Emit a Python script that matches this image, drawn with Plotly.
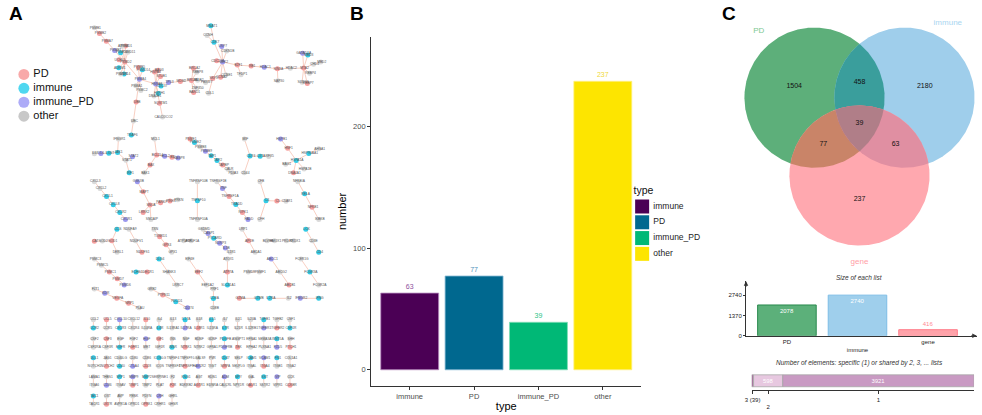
import numpy as np
import plotly.graph_objects as go

W, H = 982, 415

# ---------------- panel A: gene network (edges "A-B") ----------------
TOP_LEFT = """BRCA1-BARD1 BRCA1-ZNF350 BRCA1-BRCA2 BRCA1-RBBP8 BRCA1-PALB2 BRCA1-MDM2
MDM2-TP53 TP53-HSPA8 HSPA8-HSPA4 HSPA8-STUB1 HSPA8-BAG3 HSPA8-DNAJB1 HSPA8-HSPH1
HSPA8-CDC37 HSPA8-PSMA4 HSPA8-SQSTM1 PSMA4-PSMD2 PSMA4-PSMB5 PSMA4-PSMC2 PSMA4-PSMA1
PSMA4-UBB PSMA4-PSMD14 PSMD2-PSMC4 PSMD2-PSMD1 PSMD2-PSMD4 PSMD2-UCHL5 PSMD2-ADRM1
PSMD2-PSMD11 PSMD2-ATXN3 PSMD2-PSMB7 PSMD2-USP14 PSMB7-PSMA7 PSMA7-PSMB2 PSMB2-PSMB1
UBB-UBC UBC-TRAF6 SQSTM1-CALCOCO2"""

TOP_RIGHT = """CDK2-CCNA2 CDK2-CCNE1 CDK2-CDKN1B CDK2-CDC25A CDK2-USP7 CDK2-SKP2 SKP2-CUL1
SKP2-FBXW7 CDK2-CDK7 CDK7-CCNH CDK7-MNAT1 CDK2-E2F1 E2F1-RB1 E2F1-TFDP1 RB1-HDAC1
HDAC1-SIN3A SIN3A-SAP30 SIN3A-HDAC2 HDAC2-MTA2 MTA2-CHD4 MTA2-GATAD2A MTA2-MBD3
MTA2-RBBP4 MTA2-RBBP7 MTA2-SUDS3 CHD4-MBD2"""

ROW1 = [
    "IRF1-STAT1 STAT1-JAK1 STAT1-STAT2 JAK1-IL6ST JAK1-IFNGR1 IL6ST-IL6 IL6-IL6R",
    "BCL2L1-BAX BAX-BAK1 BCL2L1-BCL2 BCL2-BID BID-CASP8 BCL2L1-MCL1",
    "PSME1-PSME2 PSME2-PSMB8 PSMB8-PSMB9 PSMB9-TAP1 TAP1-TAP2 TAP2-TAPBP TAPBP-CALR CALR-PDIA3",
    "CD74-CIITA CD74-MIF CD74-CD44 CIITA-RFX5",
    "DNAJA1-HSPA1A HSPA1A-HSPA1B HSPA1A-BAG1 HSPA1A-HSF1 HSF1-HSPB1 HSPA1A-HSP90AA1 HSP90AA1-AHSA1",
]
ROW2 = [
    "CXCL8-CXCR2 CXCR2-CXCR1 CXCL8-CXCL1 CXCL1-CXCL2 CXCL2-CXCL3",
    "SNCA-SNCAIP SNCA-PARK7 SNCA-LRRK2 PARK7-PINK1 PINK1-PRKN SNCA-MAPT MAPT-GSK3B",
    "TNFSF10-TNFRSF10A TNFSF10-TNFRSF10B",
    "TNFRSF1A-TRADD TNFRSF1A-TNF TNF-TNFRSF1B TRADD-RIPK1 RIPK1-FADD",
    "C3-C5 C3-CFB C3-CFH C5-C5AR1",
    "IKBKB-NFKB1 NFKB1-RELA RELA-NFKBIA",
]
ROW3 = [
    "SOD1-SOD2 SOD1-CCS SOD2-CAT SOD1-DERL1",
    "NDUFS1-NDUFV1 NDUFV1-NDUFA9",
    "GPX1-GPX4 GPX4-TXNRD1 TXNRD1-TXN",
    "ATP5F1A-ATP5F1B",
    "IL1B-IL1R1 IL1B-NLRP3 NLRP3-PYCARD PYCARD-CASP1 CASP1-GSDMD",
    "ABCA1-APOE APOE-LRP1",
    "HMOX1-BLVRB",
    "PRDX1-PRDX2",
    "CD4-CD3E CD3E-LCK",
]
ROW4 = [
    "PSMC1-PSMC5 PSMC5-PSMC3 PSMC1-PSMD7 PSMD7-PSMD6",
    "DECR1-ECHS1",
    "LRRC7-SHANK3 SHANK3-DLG4",
    "EEF1A2-EEF2 EEF2-EIF4E",
    "ATP7A-SLC31A1 ATP7A-ATOX1",
    "PSMF1-PSMD9",
    "ABCB1-ABCG2 ABCG2-ABCC1",
    "FCGR2A-FCGR3A FCGR3A-FCER1G",
]
ROW5 = [
    "VEGFA-KDR KDR-FLT1 VEGFA-NRP1 NRP1-PLAU",
    "CD274-PDCD1 PDCD1-PTPN11 PTPN11-GRB2",
    "CD8A-CD8B CD8A-PRF1",
    "GZMB-GZMA",
    "IL2-IL2RA",
    "IFNG-IFNGR2",
]

GRID_PAIRS = """CCL2-CCR2 CCL5-CCR5 CXCL10-CXCR3 CXCL12-CXCR4 IL10-IL10RA IL4-IL4R IL13-IL13RA1 IL17A-IL17RA
IL18-IL18R1 IL15-IL15RA IL7-IL7R IL21-IL21R IL23A-IL12RB1 TGFB1-TGFBR1 TGFB2-TGFBR2 CSF1-CSF1R
CSF2-CSF2RA CSF3-CSF3R EGF-EGFR FGF2-FGFR1 HGF-MET IGF1-IGF1R INS-INSR NGF-NTRK1
BDNF-NTRK2 GDNF-GFRA1 PDGFB-PDGFRB ANGPT1-TEK EFNA1-EPHA2 SEMA3A-PLXNA1 WNT5A-FZD5 SHH-PTCH1
DLL1-NOTCH1 JAG1-NOTCH2 CD40LG-CD40 CD80-CTLA4 CD86-CD28 ICOSLG-ICOS TNFSF4-TNFRSF4 TNFSF9-TNFRSF9
LGALS9-HAVCR2 PVR-TIGIT CD47-SIRPA SELP-SELPLG ICAM1-ITGAL VCAM1-ITGA4 FN1-ITGB1 COL1A1-ITGA2
LAMA1-ITGA6 THBS1-CD36 SPP1-ITGAV MMP9-TIMP1 MMP2-TIMP2 SERPINE1-PLAT F2-F2R KNG1-BDKRB2
AGT-AGTR1 EDN1-EDNRA ADM-CALCRL NPY-NPY1R GAL-GALR1 SST-SSTR2 VIP-VIPR1 CCK-CCKBR
TAC1-TACR1 OXT-OXTR AVP-AVPR1A PENK-OPRD1 PDYN-OPRK1 CRH-CRHR1 GHRL-GHSR"""

PD_GENES = """BRCA1 BARD1 BRCA2 MDM2 HSPA4 STUB1 BAG3 PSMD2 PSMB5 PSMD1 UCHL5 PSMA7 PSMB2 UBB SQSTM1
CCNA2 CDC25A SKP2 E2F1 RB1 SIN3A MTA2 RBBP7 BCL2L1 BAX BID PSME1 TAPBP DNAJA1 HSF1
SNCA PARK7 LRRK2 PINK1 MAPT TNFRSF1A RIPK1 C5 NFKB1 SOD1 CAT NDUFS1 GPX4 TXNRD1 APOE
PSMC1 PSMD7 DECR1 EEF2 ATP7A ABCB1 VEGFA NRP1 PTPN11 GZMA CCL5 IL10 IL18R1 TGFBR2 CSF3
FGFR1 IGF1 NTRK1 TEK PTCH1 NOTCH2 CD28 TNFRSF9 SIRPA ITGA4 TIMP1 F2R AGTR1 GALR1 CCKBR OXTR OPRK1"""

IMMUNE_GENES = """PSMD14 PSMC4 ADRM1 HSPH1 CDC37 TRAF6 USP14 CDK7 MNAT1 MBD3 IRF1 JAK1 IL6ST CD74
CIITA PSME2 TAP1 TAP2 HSPA1A HSP90AA1 CXCL8 CXCR2 CXCL1 TNFSF10 TRADD C3 RELA CCS PYCARD
CD4 LCK ECHS1 DLG4 SLC31A1 FCGR3A PDCD1 CD8A GZMB IL2RA IFNG CCR2 CXCR3 IL4R IL17A IL15
IL7R TGFB1 CSF1R EGFR INSR PDGFB WNT5A DLL1 CD40 ICOSLG CD47 ICAM1 FN1 SPP1 MMP2 KNG1 NPY SST TAC1"""

IMMUNE_PD_GENES = """HSPA8 TP53 PSMA4 PSMB7 CDK2 USP7 HDAC1 GATAD2A STAT2 IL6 BCL2 CASP8 PSMB9 HSPB1
CXCR1 GSK3B TNF FADD IL1B NLRP3 CASP1 PSMD6 ABCC1 KDR CD274 IFNGR2 CXCL10 IL17RA TGFBR1
HGF PDGFRB FZD5 CTLA4 HAVCR2 VCAM1 CD36 MMP9 ADM VIP CRH"""

NODE_TYPES = ["PD", "immune", "immune_PD", "other"]
NODE_COLORS = ["#F6A0A0", "#33CBE6", "#9B98EE", "#DADADA"]
LEGEND_COLORS = ["#F8A9A9", "#4FD7F0", "#ADABF7", "#C8C8C8"]

# ---------------- panel B: node counts by type ----------------
B_TYPES = ["immune", "PD", "immune_PD", "other"]
B_COUNTS = [63, 77, 39, 237]
B_COLORS = ["#4B0055", "#00688F", "#00B876", "#FDE500"]
B_EDGE = ["#B98DC0", "#7FB6D2", "#7FDDB8", "#FFF080"]
B_TEXT = ["#8E4F9E", "#4F93BA", "#2BC488", "#F0D83A"]

# ---------------- panel C: Venn of PD / immune / gene ----------------
SETS = ["PD", "immune", "gene"]
REGION_KEYS = ["100", "010", "001", "110", "101", "011", "111"]
REGION_COUNTS = [1504, 2180, 237, 458, 77, 63, 39]
REGION_COLORS = ["#5DAF7A", "#9FCEEB", "#FFA8AF", "#3A9E9C", "#C98468", "#E08FA2", "#B07E88"]
SET_TEXT = ["#7CC891", "#A9D5F0", "#FF9EA6"]
SIZE_FILL = ["#5CB07A", "#9FCFEC", "#FFA3AA"]
SIZE_LINE = ["#2A8A4E", "#7DBDE6", "#FF7E8A"]
SHARE_FILL = ["#A8709F", "#E7C8E0", "#C99AC3"]


def edges_of(s):
    return [tuple(p.split("-")) for p in s.split()]


def spring(edges, iters=400):
    nodes = []
    for a, b in edges:
        for v in (a, b):
            if v not in nodes:
                nodes.append(v)
    n = len(nodes)
    idx = {v: i for i, v in enumerate(nodes)}
    E = np.array([[idx[a], idx[b]] for a, b in edges])
    if n >= 4:
        A = np.zeros((n, n))
        A[E[:, 0], E[:, 1]] = 1
        A[E[:, 1], E[:, 0]] = 1
        L = np.diag(A.sum(1)) - A
        vals, vecs = np.linalg.eigh(L)
        pos = vecs[:, 1:3].copy()
        pos = pos / (np.abs(pos).max() + 1e-9) * 0.5
        pos[:, 1] += 0.01 * np.cos(np.arange(n))
    else:
        ang = np.linspace(0, 2 * np.pi, n, endpoint=False)
        pos = np.c_[np.cos(ang), np.sin(ang)] * 0.5
    k = 1.0 / np.sqrt(n)
    t = 0.1
    for _ in range(iters):
        d = pos[:, None, :] - pos[None, :, :]
        dist2 = (d ** 2).sum(-1) + 1e-9
        disp = (d * (k * k / dist2)[:, :, None]).sum(1)
        dd = pos[E[:, 0]] - pos[E[:, 1]]
        ln = np.sqrt((dd ** 2).sum(-1))
        f = dd * (ln / k)[:, None]
        np.add.at(disp, E[:, 0], -f)
        np.add.at(disp, E[:, 1], f)
        m = np.sqrt((disp ** 2).sum(-1)) + 1e-9
        pos += disp / m[:, None] * np.minimum(m, t)[:, None]
        t = max(t * 0.985, 0.003)
    return nodes, pos


pos = {}
all_edges = []


def place(edges, x0, y0, w, h, pad=4):
    nodes, p = spring(edges)
    mn, span = p.min(0), np.ptp(p, 0)
    ok = span > 1e-6
    u = np.where(ok, (p - mn) / np.where(ok, span, 1), 0.5)
    for v, (a, b) in zip(nodes, u):
        pos[v] = (x0 + pad + a * (w - 2 * pad), y0 + pad + b * (h - 2 * pad))
    all_edges.extend(edges)


place(edges_of(TOP_LEFT), 84, 24, 112, 116)
place(edges_of(TOP_RIGHT), 196, 22, 124, 76)

for comps, y0, y1 in [(ROW1, 136, 178), (ROW2, 179, 225), (ROW3, 227, 258), (ROW4, 257, 291), (ROW5, 287, 314)]:
    sizes = [len(set(sum(edges_of(c), ()))) ** 0.75 for c in comps]
    avail = 234 - 4 * (len(comps) - 1)
    x = 84
    for c, s in zip(comps, sizes):
        w = avail * s / sum(sizes)
        place(edges_of(c), x, y0, w, y1 - y0)
        x += w + 4

for i, (a, b) in enumerate(edges_of(GRID_PAIRS)):
    col, row = i % 16, i // 16
    gx = 87 + col * 13.2
    gy = 322 + row * 19.2
    pos[a] = (gx, gy)
    pos[b] = (gx, gy + 8.5)
    all_edges.append((a, b))

ntype = {v: "other" for v in pos}
for name, genes in [("PD", PD_GENES), ("immune", IMMUNE_GENES), ("immune_PD", IMMUNE_PD_GENES)]:
    for g in genes.split():
        if g in ntype:
            ntype[g] = name

font = "Liberation Sans, Arial, sans-serif"
fig = go.Figure()

# x/y is a pixel canvas over the whole figure (network + hand-made legends)
ex, ey = [], []
for a, b in all_edges:
    ex += [pos[a][0], pos[b][0], None]
    ey += [pos[a][1], pos[b][1], None]
fig.add_trace(go.Scatter(x=ex, y=ey, mode="lines", line=dict(color="#F4AE98", width=0.6),
                         hoverinfo="skip", xaxis="x", yaxis="y"))

for t, c in zip(NODE_TYPES, NODE_COLORS):
    vs = [v for v in pos if ntype[v] == t]
    fig.add_trace(go.Scatter(x=[pos[v][0] for v in vs], y=[pos[v][1] for v in vs], mode="markers",
                             marker=dict(size=5, color=c, line=dict(width=0)),
                             text=vs, xaxis="x", yaxis="y"))

vs = list(pos)
fig.add_trace(go.Scatter(x=[pos[v][0] + 1 for v in vs], y=[pos[v][1] for v in vs], mode="text", text=vs,
                         textposition="middle center", textfont=dict(size=3.3, color="#555555"),
                         hoverinfo="skip", xaxis="x", yaxis="y"))

# legend of panel A
fig.add_trace(go.Scatter(x=[17] * 4, y=[75 + 14 * i for i in range(4)], mode="markers",
                         marker=dict(size=11, color=LEGEND_COLORS, line=dict(width=0)),
                         hoverinfo="skip", xaxis="x", yaxis="y"))
fig.add_trace(go.Scatter(x=[26.5] * 4, y=[75 + 14 * i for i in range(4)], mode="text",
                         text=NODE_TYPES, textposition="middle right",
                         textfont=dict(size=11, color="#111111", family=font),
                         hoverinfo="skip", xaxis="x", yaxis="y"))

# legend of panel B
key_y = [208 + 15.9 * i for i in range(4)]
fig.add_trace(go.Scatter(x=[639.7] * 4, y=key_y, mode="markers",
                         marker=dict(size=14, symbol="square", color=B_COLORS, line=dict(width=0)),
                         hoverinfo="skip", xaxis="x", yaxis="y"))
fig.add_trace(go.Scatter(x=[651] * 4, y=key_y, mode="text", text=B_TYPES, textposition="middle right",
                         textfont=dict(size=8.5, color="#222222", family=font),
                         hoverinfo="skip", xaxis="x", yaxis="y"))
fig.add_trace(go.Scatter(x=[631], y=[193], mode="text", text=["type"], textposition="middle right",
                         textfont=dict(size=10.5, color="#111111", family=font),
                         hoverinfo="skip", xaxis="x", yaxis="y"))

# ---------------- panel B ----------------
for t, n, c, e, tc in zip(B_TYPES, B_COUNTS, B_COLORS, B_EDGE, B_TEXT):
    fig.add_trace(go.Bar(x=[t], y=[n], name=t, width=0.9, marker=dict(color=c, line=dict(color=e, width=0.8)),
                         text=[n], textposition="outside", textfont=dict(size=7, color=tc),
                         cliponaxis=False, xaxis="x2", yaxis="y2"))

# ---------------- panel C: Venn ----------------
R = 1.35
ANG = np.deg2rad([150, 30, 270])
centers = np.c_[np.cos(ANG), np.sin(ANG)]
th = np.linspace(0, 2 * np.pi, 721)


def region_poly(members):
    pts = []
    for i in members:
        bnd = centers[i] + R * np.c_[np.cos(th), np.sin(th)]
        ok = np.ones(len(bnd), bool)
        for j in members:
            if j != i:
                ok &= ((bnd - centers[j]) ** 2).sum(1) <= R * R + 1e-9
        pts.append(bnd[ok])
    P = np.vstack(pts)
    m = P.mean(0)
    return P[np.argsort(np.arctan2(P[:, 1] - m[1], P[:, 0] - m[0]))]


g = np.linspace(-3, 3, 601)
GX, GY = np.meshgrid(g, g)
inside = [(GX - cx) ** 2 + (GY - cy) ** 2 <= R * R for cx, cy in centers]

for key, col in zip(REGION_KEYS, REGION_COLORS):
    members = [i for i, ch in enumerate(key) if ch == "1"]
    P = region_poly(members)
    fig.add_trace(go.Scatter(x=np.r_[P[:, 0], P[0, 0]], y=np.r_[P[:, 1], P[0, 1]], mode="lines",
                             fill="toself", fillcolor=col, line=dict(width=0), hoverinfo="skip",
                             xaxis="x3", yaxis="y3"))

lx, ly = [], []
for key in REGION_KEYS:
    mask = np.ones_like(GX, bool)
    for i, ch in enumerate(key):
        mask &= inside[i] if ch == "1" else ~inside[i]
    lx.append(GX[mask].mean())
    ly.append(GY[mask].mean())
fig.add_trace(go.Scatter(x=lx, y=ly, mode="text", text=[str(v) for v in REGION_COUNTS],
                         textfont=dict(size=7, color="#111111", family=font),
                         hoverinfo="skip", xaxis="x3", yaxis="y3"))

LBL_ANG = np.deg2rad([130, 60, 270])
fig.add_trace(go.Scatter(x=centers[:, 0] + (R + 0.32) * np.cos(LBL_ANG),
                         y=centers[:, 1] + (R + 0.32) * np.sin(LBL_ANG),
                         mode="text", text=SETS, textfont=dict(size=8, color=SET_TEXT),
                         hoverinfo="skip", xaxis="x3", yaxis="y3"))

# size of each list
set_sizes = [sum(n for k, n in zip(REGION_KEYS, REGION_COUNTS) if k[i] == "1") for i in range(3)]
fig.add_trace(go.Bar(x=[0, 1, 2], y=set_sizes, width=0.83, text=set_sizes,
                     textposition=["inside", "inside", "outside"], insidetextanchor="end",
                     textfont=dict(size=6, color=["white", "white", "#FF8A94"]),
                     marker=dict(color=SIZE_FILL, line=dict(color=SIZE_LINE, width=1)),
                     cliponaxis=False, xaxis="x4", yaxis="y4"))

# specific / shared counts
shared = [sum(n for k, n in zip(REGION_KEYS, REGION_COUNTS) if k.count("1") == d) for d in (3, 2, 1)]
bases = np.r_[0, np.cumsum(shared)[:-1]]
fig.add_trace(go.Bar(y=[0, 0, 0], x=shared, base=bases, orientation="h", width=0.8,
                     text=["", str(shared[1]), str(shared[2])], textposition="inside",
                     insidetextanchor="middle", textfont=dict(size=6, color="white"),
                     marker=dict(color=SHARE_FILL, line=dict(color="#A8A8A8", width=0.8)),
                     xaxis="x5", yaxis="y5"))
centers_x = bases + np.array(shared) / 2

annotations = [
    dict(text="<b>A</b>", x=0, y=1 - 1 / H),
    dict(text="<b>B</b>", x=343 / W, y=1 - 1 / H),
    dict(text="<b>C</b>", x=718 / W, y=1 - 1 / H),
]
for a in annotations:
    a.update(xref="paper", yref="paper", xanchor="left", yanchor="top", showarrow=False,
             font=dict(size=19, color="black", family=font))
annotations += [
    dict(text="<i>Size of each list</i>", x=859 / W, y=1 - 280 / H, xref="paper", yref="paper",
         xanchor="center", yanchor="middle", showarrow=False,
         font=dict(size=6.5, color="#333333", family=font)),
    dict(text="<i>Number of elements: specific (1) or shared by 2, 3, ... lists</i>", x=859 / W,
         y=1 - 366 / H, xref="paper", yref="paper", xanchor="center", yanchor="middle",
         showarrow=False, font=dict(size=6.5, color="#333333", family=font)),
    dict(text="", x=2.69, y=0, xref="x4", yref="y4", ax=-7, ay=0, showarrow=True, arrowhead=2,
         arrowsize=0.9, arrowwidth=1, arrowcolor="#333333"),
    dict(text="", x=-0.58, y=3674, xref="x4", yref="y4", ax=0, ay=7, showarrow=True, arrowhead=2,
         arrowsize=0.9, arrowwidth=1, arrowcolor="#333333"),
]

hidden = dict(visible=False, showgrid=False, zeroline=False, fixedrange=True)
fig.update_layout(
    width=W, height=H, margin=dict(l=0, r=0, t=0, b=0), showlegend=False,
    paper_bgcolor="white", plot_bgcolor="rgba(0,0,0,0)", barmode="overlay",
    font=dict(family=font),
    xaxis=dict(domain=[0, 1], range=[0, W], **hidden),
    yaxis=dict(domain=[0, 1], range=[H, 0], **hidden),
    xaxis2=dict(domain=[366.7 / W, 639 / W], range=[-0.6, 3.6], type="category",
                categoryorder="array", categoryarray=B_TYPES, anchor="y2",
                showline=True, linecolor="#333333", linewidth=0.9, ticks="outside", ticklen=3,
                tickcolor="#333333", tickfont=dict(size=7.5, color="#4D4D4D"), showgrid=False,
                title=dict(text="type", font=dict(size=11, color="black"), standoff=2)),
    yaxis2=dict(domain=[1 - 389 / H, 1 - 37 / H], range=[-13.5, 273.6], anchor="x2",
                tickvals=[0, 100, 200], showline=True, linecolor="#333333", linewidth=0.9,
                ticks="outside", ticklen=3, tickcolor="#333333", zeroline=False, showgrid=False,
                tickfont=dict(size=7.5, color="#4D4D4D"),
                title=dict(text="number", font=dict(size=11, color="black"), standoff=4)),
    xaxis3=dict(domain=[730 / W, 1], range=[-2.459, 2.359], anchor="y3", **hidden),
    yaxis3=dict(domain=[1 - 270 / H, 1 - 10 / H], range=[-2.782, 2.189], anchor="x3", **hidden),
    xaxis4=dict(domain=[744.3 / W, 976.7 / W], range=[-0.58, 2.69], anchor="y4",
                showline=True, linecolor="#333333", linewidth=1, tickvals=[0, 1, 2],
                ticktext=["PD", "<br>immune", "gene"], tickfont=dict(size=6, color="#222222"),
                showgrid=False, zeroline=False, fixedrange=True),
    yaxis4=dict(domain=[1 - 338.3 / H, 1 - 283.3 / H], range=[0, 3674], anchor="x4",
                showline=True, linecolor="#333333", linewidth=1, tickvals=[0, 1370, 2740],
                ticks="outside", ticklen=2, tickcolor="#333333", tickfont=dict(size=6, color="#222222"),
                showgrid=False, zeroline=False, fixedrange=True),
    xaxis5=dict(domain=[750 / W, 974 / W], range=[0, sum(shared)], anchor="y5",
                showline=True, linecolor="#333333", linewidth=0.8, ticks="outside", ticklen=3,
                tickcolor="#333333", tickvals=list(centers_x),
                ticktext=[f"3 ({shared[0]})", "<br>2", "1"], tickfont=dict(size=6, color="#222222"),
                showgrid=False, zeroline=False, fixedrange=True),
    yaxis5=dict(domain=[1 - 393.3 / H, 1 - 375.3 / H], range=[-0.65, 0.55], anchor="x5", **hidden),
    annotations=annotations,
)

# drop the browser's default 8px body margin so the figure sits at the page corner
fig.write_html("out.html", config={"displayModeBar": False},
               post_script="document.body.style.margin='0';")
